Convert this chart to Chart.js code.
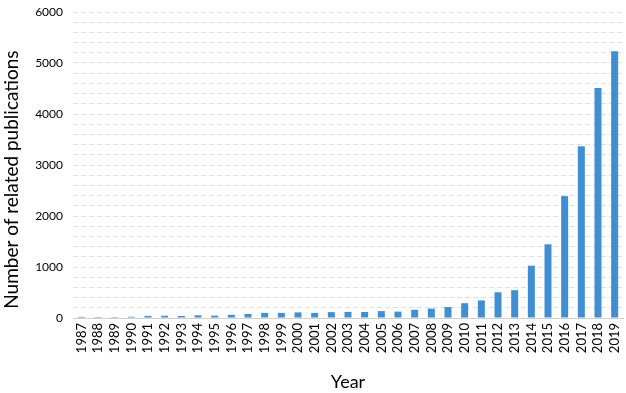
<!DOCTYPE html>
<html>
<head>
<meta charset="utf-8">
<title>Related publications per year</title>
<script src="https://cdn.jsdelivr.net/npm/chart.js@4/dist/chart.umd.min.js"></script>
<style>
  html, body { margin: 0; padding: 0; background: #ffffff; }
  #wrap { width: 626px; height: 393px; position: relative; }
</style>
</head>
<body>
<div id="wrap"><canvas id="pubChart" width="626" height="393"></canvas></div>
<script>
// Data
const years = ['1987', '1988', '1989', '1990', '1991', '1992', '1993', '1994', '1995', '1996',
  '1997', '1998', '1999', '2000', '2001', '2002', '2003', '2004', '2005', '2006',
  '2007', '2008', '2009', '2010', '2011', '2012', '2013', '2014', '2015', '2016',
  '2017', '2018', '2019'];
const publications = [22, 18, 18, 24, 42, 44, 40, 52, 47, 62,
  80, 100, 100, 110, 100, 115, 120, 118, 135, 125,
  160, 185, 215, 290, 345, 505, 545, 1025, 1445, 2390,
  3370, 4510, 5230];
const yLabelStep = 1000;
const yGridStep = 200;
const yMax = 6000;

const fontFamily = 'Lato, "Open Sans", sans-serif';

// Build the chart
function initializeChart() {
  const ctx = document.getElementById('pubChart').getContext('2d');
  new Chart(ctx, {
    type: 'bar',
    data: {
      labels: years,
      datasets: [{
        label: 'Number of related publications',
        data: publications,
        backgroundColor: '#3f8fd2',
        borderWidth: 0,
        barPercentage: 0.42,
        categoryPercentage: 1.0
      }]
    },
    options: {
      responsive: false,
      animation: false,
      layout: { padding: { top: 12, right: 3, left: 0, bottom: 0 } },
      plugins: {
        legend: { display: false },
        tooltip: { enabled: false }
      },
      scales: {
        x: {
          grid: { display: false, drawTicks: false },
          border: { display: true, color: '#d0d0d0', width: 1 },
          ticks: {
            color: '#000000',
            font: { family: fontFamily, size: 13 },
            minRotation: 90,
            maxRotation: 90,
            autoSkip: false,
            padding: 5
          },
          title: {
            display: true,
            text: 'Year',
            color: '#000000',
            font: { family: fontFamily, size: 18 },
            padding: { top: 4, bottom: 0 }
          },
          afterFit: scale => {
            scale.height = 75;
            scale.paddingLeft = 0;
            scale.paddingRight = 0;
          }
        },
        y: {
          min: 0,
          max: yMax,
          grid: {
            color: '#dedede',
            lineWidth: 1,
            drawTicks: false
          },
          border: { display: false, dash: [5, 3] },
          ticks: {
            stepSize: yGridStep,
            autoSkip: false,
            color: '#000000',
            font: { family: fontFamily, size: 12 },
            padding: 10,
            callback: value => (value % yLabelStep === 0 ? value : '')
          },
          title: {
            display: true,
            // trailing spaces nudge the centred title down like the original
            text: 'Number of related publications      ',
            color: '#000000',
            font: { family: fontFamily, size: 19 },
            padding: { top: 0, bottom: 4 }
          },
          afterFit: scale => {
            scale.width = 73;
            scale.paddingTop = 0;
            scale.paddingBottom = 0;
          }
        }
      }
    }
  });
}

initializeChart();
</script>
</body>
</html>
